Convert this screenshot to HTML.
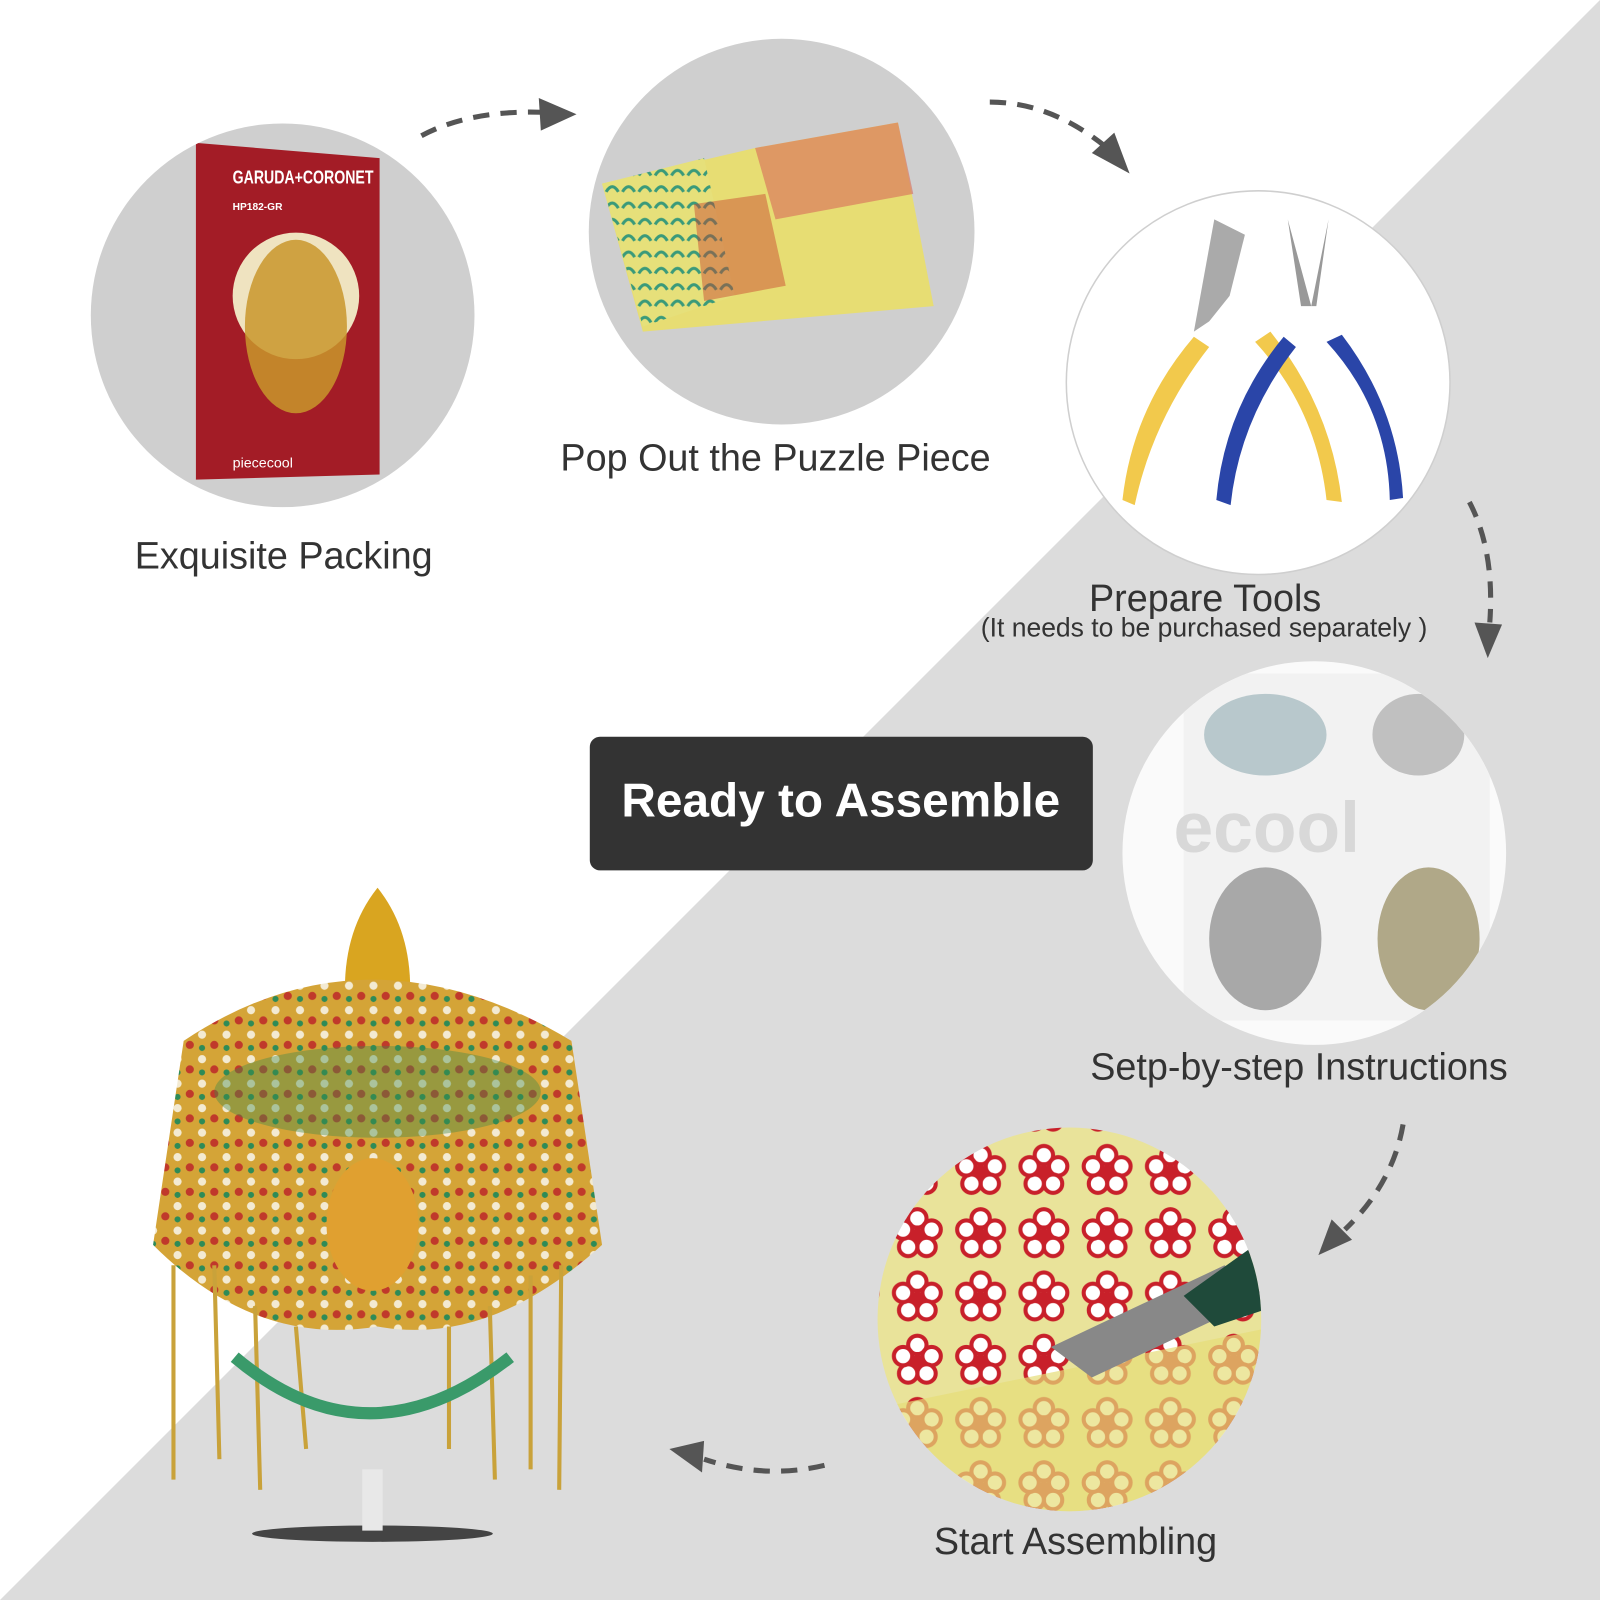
<!DOCTYPE html>
<html><head><meta charset="utf-8"><style>
html,body{margin:0;padding:0;background:#fff;}
svg{display:block}
text{font-family:"Liberation Sans",sans-serif;}
</style></head><body>
<svg width="1600" height="1600" viewBox="0 0 1568 1568" xmlns="http://www.w3.org/2000/svg">
<defs>
<pattern id="fl" width="62" height="62" patternUnits="userSpaceOnUse">
<rect width="62" height="62" fill="#e9e39a"/>
<g fill="#fff" stroke="#c8202a" stroke-width="4">
<circle cx="31" cy="16" r="9"/><circle cx="45" cy="27" r="9"/><circle cx="40" cy="44" r="9"/><circle cx="22" cy="44" r="9"/><circle cx="17" cy="27" r="9"/>
</g><circle cx="31" cy="32" r="6" fill="#c8202a"/>
</pattern>
<pattern id="gr" width="16" height="16" patternUnits="userSpaceOnUse">
<rect width="16" height="16" fill="#e6e07a"/><path d="M2 12 Q8 2 14 12" stroke="#3a9a7a" stroke-width="3" fill="none"/>
</pattern>
<pattern id="cr" width="24" height="24" patternUnits="userSpaceOnUse">
<rect width="24" height="24" fill="#d4a437"/>
<circle cx="6" cy="6" r="4" fill="#f3ead2"/><circle cx="18" cy="16" r="4" fill="#c0392b"/><circle cx="6" cy="19" r="3" fill="#2e8b57"/>
</pattern>
<clipPath id="c5"><circle cx="1048" cy="1293" r="188"/></clipPath>
<clipPath id="c4"><circle cx="1288" cy="836" r="188"/></clipPath>
<clipPath id="c1"><circle cx="277" cy="309" r="188"/></clipPath>
</defs>
<rect width="1568" height="1568" fill="#fff"/>
<polygon points="1568,0 1568,1568 0,1568" fill="#dcdcdc"/>

<!-- circle 1 -->
<circle cx="277" cy="309" r="188" fill="#cfcfcf"/>
<g clip-path="url(#c1)">
<polygon points="192,140 372,155 372,465 192,470" fill="#a31c26"/>
<circle cx="290" cy="290" r="62" fill="#efe3c0"/>
<ellipse cx="290" cy="320" rx="50" ry="85" fill="#c9962c" opacity="0.85"/>
<text x="228" y="180" fill="#fff" font-size="18" font-weight="bold" textLength="138" lengthAdjust="spacingAndGlyphs">GARUDA+CORONET</text>
<text x="228" y="206" fill="#fff" font-size="10" font-weight="bold">HP182-GR</text>
<text x="228" y="458" fill="#fff" font-size="14">piececool</text>
</g>

<!-- circle 2 -->
<circle cx="766" cy="227" r="189" fill="#cfcfcf"/>
<polygon points="590,180 740,145 880,120 915,300 630,325" fill="#e7dd73"/>
<polygon points="590,180 690,155 720,290 630,320" fill="url(#gr)"/>
<polygon points="740,145 880,120 895,190 760,215" fill="#d86a5a" opacity="0.6"/>
<polygon points="680,200 750,190 770,280 690,295" fill="#c8402e" opacity="0.45"/>

<!-- circle 3 -->
<circle cx="1233" cy="375" r="188" fill="#fff" stroke="#cfcfcf" stroke-width="1.5"/>
<path d="M1190 215 L1220 230 L1205 290 L1185 315 L1170 325 Z" fill="#aaa"/>
<path d="M1262 215 L1275 300 L1290 300 L1302 215 L1285 300 Z" fill="#999"/>
<path d="M1170 330 Q1110 400 1100 490 L1112 495 Q1130 410 1185 340 Z" fill="#f2c94c"/>
<path d="M1230 335 Q1290 400 1300 490 L1315 492 Q1305 400 1245 325 Z" fill="#f2c94c"/>
<path d="M1258 330 Q1200 400 1192 490 L1206 495 Q1215 410 1270 340 Z" fill="#2a45a8"/>
<path d="M1300 335 Q1360 400 1362 490 L1375 488 Q1370 400 1315 328 Z" fill="#2a45a8"/>

<!-- circle 4 -->
<circle cx="1288" cy="836" r="188" fill="#fafafa"/>
<g clip-path="url(#c4)">
<rect x="1160" y="660" width="300" height="340" fill="#f2f2f2"/>
<ellipse cx="1240" cy="920" rx="55" ry="70" fill="#a8a8a8"/>
<ellipse cx="1400" cy="920" rx="50" ry="70" fill="#b0a888"/>
<ellipse cx="1240" cy="720" rx="60" ry="40" fill="#b8c8cc"/>
<ellipse cx="1390" cy="720" rx="45" ry="40" fill="#c0c0c0"/>
<text x="1150" y="835" fill="#d8d8d8" font-size="70" font-weight="bold">ecool</text>
</g>

<!-- circle 5 -->
<g clip-path="url(#c5)">
<rect x="850" y="1100" width="400" height="400" fill="url(#fl)"/>
<polygon points="860,1380 1250,1300 1250,1500 860,1500" fill="#e6dd78" opacity="0.7"/>
<polygon points="1030,1320 1200,1240 1240,1270 1070,1350" fill="#888"/>
<polygon points="1160,1270 1230,1220 1250,1280 1190,1300" fill="#1f4a3a"/>
</g>

<!-- crown -->
<path d="M370 870 Q330 920 340 1000 L400 1000 Q410 920 370 870 Z" fill="#d9a520"/>
<path d="M180 1020 Q360 900 560 1020 L590 1220 Q480 1320 370 1300 Q250 1320 150 1220 Z" fill="url(#cr)"/>
<ellipse cx="370" cy="1070" rx="160" ry="45" fill="#3f8a4a" opacity="0.4"/>
<ellipse cx="365" cy="1200" rx="45" ry="65" fill="#e0a030"/>
<path d="M170 1240 L170 1450 M210 1240 L215 1430 M250 1280 L255 1460 M290 1300 L300 1420 M440 1300 L440 1420 M480 1280 L485 1450 M520 1250 L520 1440 M550 1240 L548 1460" stroke="#c9a23a" stroke-width="4"/>
<path d="M230 1330 Q360 1440 500 1330" stroke="#3a9a6a" stroke-width="12" fill="none"/>
<ellipse cx="365" cy="1503" rx="118" ry="8" fill="#444"/>
<rect x="355" y="1440" width="20" height="60" fill="#e8e8e8"/>

<!-- box -->
<rect x="578" y="722" width="493" height="131" rx="10" fill="#333"/>
<text x="824" y="800" fill="#fff" font-size="46" font-weight="bold" text-anchor="middle" textLength="430" lengthAdjust="spacingAndGlyphs">Ready to Assemble</text>

<!-- labels -->
<g fill="#333" font-size="37" text-anchor="middle">
<text x="278" y="557">Exquisite Packing</text>
<text x="760" y="461">Pop Out the Puzzle Piece</text>
<text x="1181" y="599">Prepare Tools</text>
<text x="1180" y="624" font-size="26">(It needs to be purchased separately )</text>
<text x="1273" y="1058">Setp-by-step Instructions</text>
<text x="1054" y="1523">Start Assembling</text>
</g>

<!-- arrows -->
<g stroke="#555" stroke-width="5" fill="none" stroke-dasharray="16 11">
<path d="M413 133 Q460 108 530 110"/>
<path d="M970 100 Q1030 100 1085 145"/>
<path d="M1440 492 Q1465 540 1460 610"/>
<path d="M1375 1102 Q1365 1160 1318 1205"/>
<path d="M808 1436 Q750 1450 690 1430"/>
</g>
<g fill="#555">
<polygon points="565,112 528,96 530,128"/>
<polygon points="1107,170 1070,150 1092,130"/>
<polygon points="1458,645 1445,610 1472,612"/>
<polygon points="1292,1230 1305,1195 1325,1215"/>
<polygon points="656,1420 690,1412 688,1443"/>
</g>
</svg>
</body></html>
